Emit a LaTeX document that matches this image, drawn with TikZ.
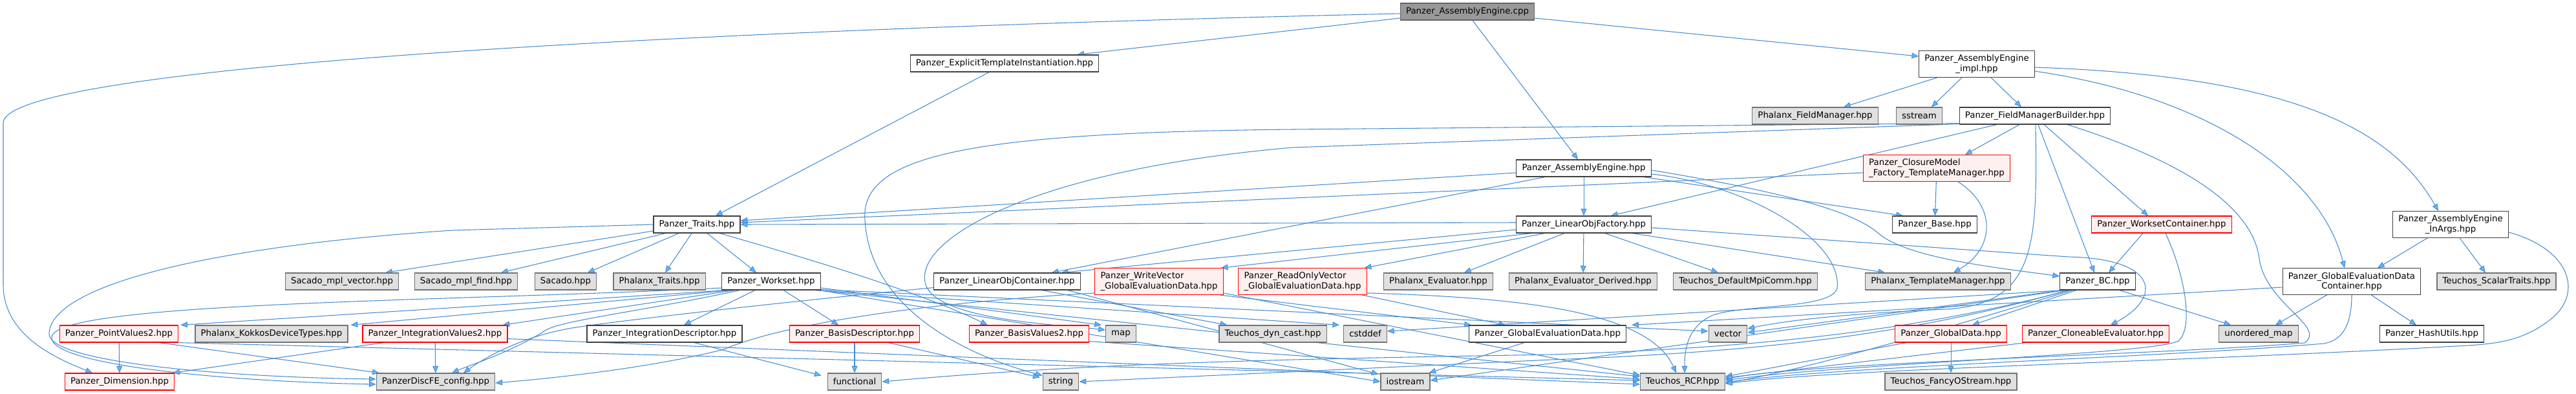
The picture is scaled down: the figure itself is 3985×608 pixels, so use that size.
\documentclass[tikz,border=0pt]{standalone}
\usepackage{fontspec}
\setmainfont{DejaVu Sans}
\usetikzlibrary{arrows.meta,calc}
\definecolor{edgeblue}{HTML}{468CD2}
\definecolor{tipblue}{HTML}{63B8FF}
\definecolor{extgray}{HTML}{E0E0E0}
\definecolor{rootgray}{HTML}{999999}
\definecolor{cutpink}{HTML}{FFF0F0}
\pgfdeclarelayer{background}
\pgfsetlayers{background,main}
\begin{document}
\begin{tikzpicture}[x=0.75pt,y=-0.75pt,line cap=round,
  box/.style={draw,line width=0.9pt,font=\fontsize{10}{11.5}\selectfont,
    inner xsep=6.5pt,inner ysep=4.5pt,minimum height=19.5pt},
  filebox/.style={box,fill=rootgray,draw=black!60,align=center},
  docbox/.style={box,fill=white,draw=black!75,align=center},
  extbox/.style={box,fill=extgray,draw=black!55,align=center},
  cutbox/.style={box,fill=cutpink,draw=red,align=left},
  incl/.style={draw=edgeblue,line width=0.8pt,
    -{Triangle[length=8pt,width=6.5pt,fill=tipblue]}}]
  \useasboundingbox (0,0) rectangle (3985,608);
  \foreach \n/\x/\y/\s/\t in {
    cpp/2270/18/filebox/{Panzer\_AssemblyEngine.cpp},
    eti/1554/98/docbox/{Panzer\_ExplicitTemplateInstantiation.hpp},
    impl/3058/99/docbox/{Panzer\_AssemblyEngine\\\_impl.hpp},
    fm/2808/179/extbox/{Phalanx\_FieldManager.hpp},
    sst/2969/179/extbox/{sstream},
    fmb/3148/179/docbox/{Panzer\_FieldManagerBuilder.hpp},
    aeh/2450/260/docbox/{Panzer\_AssemblyEngine.hpp},
    cmtm/2996/260/cutbox/{Panzer\_ClosureModel\\\_Factory\_TemplateManager.hpp},
    traits/1078/347/docbox/{Panzer\_Traits.hpp},
    lof/2450/347/docbox/{Panzer\_LinearObjFactory.hpp},
    base/2993/347/docbox/{Panzer\_Base.hpp},
    wsc/3344/347/cutbox/{Panzer\_WorksetContainer.hpp},
    inargs/3791/347/docbox/{Panzer\_AssemblyEngine\\\_InArgs.hpp},
    smv/529/435/extbox/{Sacado\_mpl\_vector.hpp},
    smf/721/435/extbox/{Sacado\_mpl\_find.hpp},
    sac/875/435/extbox/{Sacado.hpp},
    phtr/1020/435/extbox/{Phalanx\_Traits.hpp},
    ws/1193/435/docbox/{Panzer\_Workset.hpp},
    loc/1558/435/docbox/{Panzer\_LinearObjContainer.hpp},
    wv/1793/435/cutbox/{Panzer\_WriteVector\\\_GlobalEvaluationData.hpp},
    rov/2015/435/cutbox/{Panzer\_ReadOnlyVector\\\_GlobalEvaluationData.hpp},
    pev/2225/435/extbox/{Phalanx\_Evaluator.hpp},
    pevd/2449/435/extbox/{Phalanx\_Evaluator\_Derived.hpp},
    mpi/2700/435/extbox/{Teuchos\_DefaultMpiComm.hpp},
    ptm/2998/435/extbox/{Phalanx\_TemplateManager.hpp},
    bc/3245/435/docbox/{Panzer\_BC.hpp},
    gedc/3638/435/docbox/{Panzer\_GlobalEvaluationData\\Container.hpp},
    stt/3862/435/extbox/{Teuchos\_ScalarTraits.hpp},
    pv2/184/516/cutbox/{Panzer\_PointValues2.hpp},
    kdt/420/516/extbox/{Phalanx\_KokkosDeviceTypes.hpp},
    iv2/673/516/cutbox/{Panzer\_IntegrationValues2.hpp},
    idesc/1028/516/docbox/{Panzer\_IntegrationDescriptor.hpp},
    bdesc/1322/516/cutbox/{Panzer\_BasisDescriptor.hpp},
    bv2/1592/516/cutbox/{Panzer\_BasisValues2.hpp},
    map/1734/516/extbox/{map},
    dyn/1969/516/extbox/{Teuchos\_dyn\_cast.hpp},
    cstd/2112/516/extbox/{cstddef},
    ged/2394/516/docbox/{Panzer\_GlobalEvaluationData.hpp},
    vec/2673/516/extbox/{vector},
    gd/3018/516/cutbox/{Panzer\_GlobalData.hpp},
    ce/3242/516/cutbox/{Panzer\_CloneableEvaluator.hpp},
    umap/3494/516/extbox/{unordered\_map},
    hash/3762/516/docbox/{Panzer\_HashUtils.hpp},
    dim/185/590/cutbox/{Panzer\_Dimension.hpp},
    cfg/674/590/extbox/{PanzerDiscFE\_config.hpp},
    func/1322/590/extbox/{functional},
    strg/1641/590/extbox/{string},
    ios/2174/590/extbox/{iostream},
    rcp/2603/590/extbox/{Teuchos\_RCP.hpp},
    fos/3018/590/extbox/{Teuchos\_FancyOStream.hpp}} {
    \node[\s] (\n) at (\x,\y) {\t};
  }
  \begin{pgfonlayer}{background}
  \draw[incl] ($(cpp.west)+(0,3)$) .. controls (900,50) and (5,110) .. (5,190) -- (5,440)
    .. controls (5,520) and (90,555) .. ($(dim.north)+(-42,0)$);
  \draw[incl] ($(cpp.west)+(0,10)$) -- ($(eti.north east)+(-34,0)$);
  \draw[incl] ($(cpp.south)+(8,0)$) -- ($(aeh.north)+(-9,0)$);
  \draw[incl] ($(cpp.east)+(0,10)$) -- ($(impl.west)+(0,-12)$);
  \draw[incl] ($(eti.south)+(-24,0)$) -- ($(traits.north)+(29,0)$);
  \draw[incl] ($(impl.south)+(-61,0)$) -- ($(fm.north)+(44,0)$);
  \draw[incl] ($(impl.south)+(-23,0)$) -- ($(sst.north)+(19,0)$);
  \draw[incl] ($(impl.south)+(22,0)$) -- ($(fmb.north)+(-21,0)$);
  \draw[incl] ($(impl.east)+(0,5)$) .. controls (3550,118) and (3700,200) .. ($(inargs.north)+(-19,0)$);
  \draw[incl] ($(impl.east)+(0,11)$) .. controls (3420,150) and (3590,270) .. ($(gedc.north)+(-11,0)$);
  \draw[incl] ($(fmb.south west)+(0,-1)$) -- (2000,228) .. controls (1600,262) and (1410,370) .. (1432,440)
    .. controls (1450,495) and (1640,502) .. ($(map.west)+(0,-6)$);
  \draw[incl] ($(fmb.south west)+(0,-2)$) -- (2000,200) .. controls (1500,205) and (1330,240) .. (1338,340)
    .. controls (1345,470) and (1480,545) .. ($(strg.north west)+(0,4)$);
  \draw[incl] ($(fmb.south)+(-59,0)$) -- ($(lof.north)+(42,0)$);
  \draw[incl] ($(fmb.south)+(-24,0)$) -- ($(cmtm.north)+(44,0)$);
  \draw[incl] ($(fmb.south)+(5,0)$) -- ($(bc.north)+(-5,0)$);
  \draw[incl] ($(fmb.south)+(14,0)$) -- ($(wsc.north)+(-21,0)$);
  \draw[incl] ($(fmb.south)+(1,0)$) .. controls (3152,380) and (3150,470) .. (3010,478)
    .. controls (2850,485) and (2760,496) .. ($(vec.east)+(0,-8)$);
  \draw[incl] ($(fmb.south)+(50,0)$) .. controls (3380,250) and (3485,320) .. (3495,400)
    .. controls (3505,470) and (3600,505) .. (3565,530) .. controls (3350,548) and (2800,560) .. ($(rcp.east)+(0,-4)$);
  \draw[incl] ($(aeh.west)+(0,7)$) -- ($(traits.east)+(0,-6)$);
  \draw[incl] (aeh) -- (lof);
  \draw[incl] ($(aeh.south west)+(45,0)$) -- ($(loc.north east)+(-45,0)$);
  \draw[incl] ($(aeh.south east)+(-12,0)$) -- ($(base.north west)+(17,0)$);
  \draw[incl] ($(aeh.east)+(0,3)$) .. controls (2780,300) and (2870,330) .. (2905,360)
    .. controls (2950,400) and (3100,415) .. ($(bc.west)+(0,-8)$);
  \draw[incl] ($(aeh.east)+(0,9)$) .. controls (2700,285) and (2850,370) .. (2842,445)
    .. controls (2835,478) and (2700,470) .. (2650,487) .. controls (2610,505) and (2606,540) .. ($(rcp.north)+(3,0)$);
  \draw[incl] ($(cmtm.west)+(0,7)$) -- ($(traits.east)+(0,-3)$);
  \draw[incl] (cmtm) -- (base);
  \draw[incl] ($(cmtm.south)+(33,0)$) .. controls (3090,320) and (3085,385) .. ($(ptm.north)+(24,0)$);
  \draw[incl] ($(lof.west)+(0,-3)$) -- (traits.east);
  \draw[incl] ($(lof.west)+(0,8)$) -- ($(loc.north east)+(-30,0)$);
  \draw[incl] ($(lof.south west)+(25,0)$) -- ($(wv.north east)+(-4,0)$);
  \draw[incl] ($(lof.south west)+(45,0)$) -- ($(rov.north east)+(-4,0)$);
  \draw[incl] ($(lof.south)+(-30,0)$) -- ($(pev.north)+(40,0)$);
  \draw[incl] (lof) -- (pevd);
  \draw[incl] ($(lof.south)+(33,0)$) -- ($(mpi.north)+(-42,0)$);
  \draw[incl] ($(lof.south east)+(-30,0)$) -- ($(ptm.north west)+(31,0)$);
  \draw[incl] ($(lof.east)+(0,5)$) -- (3200,397) .. controls (3340,400) and (3345,460) .. ($(ce.north)+(23,0)$);
  \draw[incl] ($(traits.west)+(0,10)$) -- ($(smv.north east)+(-21,0)$);
  \draw[incl] ($(traits.south west)+(19,0)$) -- ($(smf.north)+(54,0)$);
  \draw[incl] ($(traits.south)+(-28,0)$) -- ($(sac.north)+(34,0)$);
  \draw[incl] ($(traits.south)+(-8,0)$) -- ($(phtr.north)+(9,0)$);
  \draw[incl] ($(traits.south)+(16,0)$) -- ($(ws.north)+(-23,0)$);
  \draw[incl] ($(traits.south east)+(-32,0)$) .. controls (1250,400) and (1420,450) .. ($(bv2.north west)+(29,0)$);
  \draw[incl] (traits.west) -- (700,356) .. controls (330,380) and (80,440) .. (76,515)
    .. controls (72,560) and (350,583) .. ($(cfg.west)+(0,-4)$);
  \draw[incl] ($(ws.west)+(0,10)$) .. controls (700,466) and (95,466) .. (80,520)
    .. controls (72,565) and (360,590) .. ($(cfg.west)+(0,4)$);
  \draw[incl] ($(ws.south west)+(28,0)$) .. controls (1000,480) and (870,495) .. (845,510)
    .. controls (790,545) and (725,565) .. ($(cfg.north)+(25,0)$);
  \draw[incl] ($(ws.south west)+(8,0)$) -- ($(pv2.north east)+(3,0)$);
  \draw[incl] ($(ws.south west)+(14,0)$) -- ($(kdt.north east)+(4,0)$);
  \draw[incl] ($(ws.south west)+(20,0)$) -- ($(iv2.north east)+(-8,0)$);
  \draw[incl] ($(ws.south)+(-25,0)$) -- ($(idesc.north)+(30,0)$);
  \draw[incl] ($(ws.south)+(19,0)$) -- ($(bdesc.north)+(-25,0)$);
  \draw[incl] ($(ws.east)+(0,10)$) -- ($(map.north west)+(-6,0)$);
  \draw[incl] ($(ws.south east)+(-8,0)$) -- ($(cstd.north west)+(-6,0)$);
  \draw[incl] ($(ws.south east)+(0,-1)$) -- ($(vec.west)+(0,-4)$);
  \draw[incl] ($(ws.south east)+(-2,0)$) -- (ios.west);
  \draw[incl] ($(ws.south east)+(-5,0)$) -- ($(rcp.west)+(0,-8)$);
  \draw[incl] (pv2) -- (dim);
  \draw[incl] ($(pv2.south east)+(-30,0)$) -- ($(cfg.north west)+(5,0)$);
  \draw[incl] (pv2.south east) -- ($(rcp.west)+(0,-2)$);
  \draw[incl] (iv2) -- (cfg);
  \draw[incl] ($(iv2.south west)+(33,0)$) -- ($(dim.north east)+(-3,0)$);
  \draw[incl] ($(iv2.south east)+(0,-6)$) -- ($(rcp.west)+(0,4)$);
  \draw[incl] ($(idesc.south)+(46,0)$) -- ($(func.north west)+(-9,4)$);
  \draw[incl] (bdesc) -- (func);
  \draw[incl] ($(bdesc.south east)+(-49,0)$) -- ($(strg.north west)+(-4,7)$);
  \draw[incl] ($(bv2.south east)+(0,-2)$) -- ($(rcp.west)+(0,-4)$);
  \draw[incl] ($(loc.south east)+(-60,0)$) -- ($(dyn.north west)+(13,0)$);
  \draw[incl] ($(loc.south west)+(0,-4)$) .. controls (1300,458) and (1000,490) .. (891,506)
    .. controls (800,520) and (740,560) .. ($(cfg.north)+(43,0)$);
  \draw[incl] ($(loc.south east)+(-20,0)$) -- ($(ios.north west)+(-3,2)$);
  \draw[incl] ($(wv.south west)+(0,-3)$) .. controls (1400,470) and (1200,505) .. (1120,540)
    .. controls (1000,570) and (850,585) .. ($(cfg.east)+(0,2)$);
  \draw[incl] ($(wv.south east)+(-6,0)$) -- ($(ged.north west)+(4,0)$);
  \draw[incl] ($(wv.south east)+(0,-3)$) -- ($(rcp.west)+(0,-10)$);
  \draw[incl] ($(rov.south east)+(-8,0)$) -- ($(ged.north)+(-65,0)$);
  \draw[incl] ($(rov.south east)+(0,-3)$) .. controls (2350,460) and (2550,480) .. ($(rcp.north)+(-10,0)$);
  \draw[incl] ($(ged.south)+(-36,0)$) -- ($(ios.north east)+(-2,0)$);
  \draw[incl] ($(bc.south)+(-33,0)$) -- ($(gd.north)+(33,0)$);
  \draw[incl] ($(bc.south east)+(-25,0)$) -- ($(umap.north west)+(19,0)$);
  \draw[incl] ($(bc.south west)+(3,0)$) -- ($(vec.east)+(0,-2)$);
  \draw[incl] ($(bc.south west)+(6,0)$) -- ($(cstd.east)+(0,-4)$);
  \draw[incl] ($(bc.south west)+(9,0)$) -- ($(ios.east)+(0,-2)$);
  \draw[incl] ($(bc.south west)+(12,0)$) .. controls (2950,520) and (2700,545) .. (2400,556) -- (strg.east);
  \draw[incl] ($(bc.south west)+(15,0)$) .. controls (2950,515) and (2700,538) .. (2400,548)
    .. controls (2000,555) and (1700,560) .. (func.east);
  \draw[incl] ($(bc.south west)+(20,0)$) .. controls (3000,510) and (2800,570) .. ($(rcp.east)+(0,2)$);
  \draw[incl] ($(wsc.south)+(-29,0)$) -- ($(bc.north)+(17,0)$);
  \draw[incl] ($(wsc.south)+(6,0)$) .. controls (3378,420) and (3395,505) .. (3370,527)
    .. controls (3330,548) and (2850,562) .. ($(rcp.east)+(0,-2)$);
  \draw[incl] ($(gd.south west)+(18,0)$) -- ($(rcp.east)+(0,-8)$);
  \draw[incl] (gd) -- (fos);
  \draw[incl] ($(ce.south west)+(7,0)$) -- ($(rcp.east)+(0,-6)$);
  \draw[incl] ($(gedc.west)+(0,9)$) -- ($(ged.north east)+(8,0)$);
  \draw[incl] ($(gedc.south)+(-38,0)$) -- ($(umap.north)+(26,0)$);
  \draw[incl] ($(gedc.south)+(30,0)$) -- ($(hash.north)+(-24,0)$);
  \draw[incl] (gedc.south) .. controls (3638,500) and (3625,526) .. (3595,531)
    .. controls (3350,552) and (2850,566) .. ($(rcp.east)+(0,1)$);
  \draw[incl] ($(inargs.south)+(-36,0)$) -- ($(gedc.north)+(40,0)$);
  \draw[incl] ($(inargs.south)+(14,0)$) -- ($(stt.north)+(-17,0)$);
  \draw[incl] ($(inargs.east)+(0,12)$) .. controls (3975,385) and (3995,450) .. (3950,490)
    .. controls (3905,528) and (3860,532) .. (3800,535) .. controls (3350,560) and (2850,570) .. ($(rcp.east)+(0,3)$);
  \end{pgfonlayer}
\end{tikzpicture}
\end{document}
